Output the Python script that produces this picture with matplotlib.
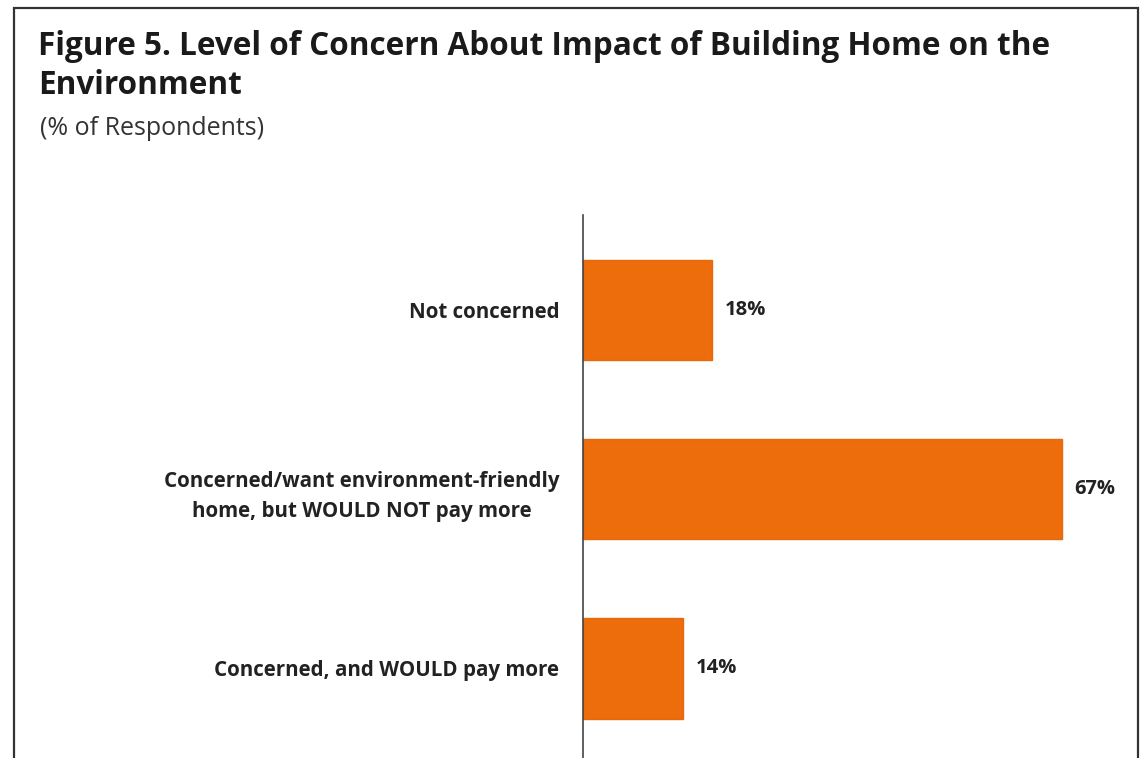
import matplotlib.pyplot as plt
from matplotlib.patches import Rectangle

categories = ["Not concerned",
              "Concerned/want environment-friendly\nhome, but WOULD NOT pay more",
              "Concerned, and WOULD pay more"]
values = [18, 67, 14]
labels = ["18%", "67%", "14%"]

plt.rcParams['font.family'] = ['Open Sans', 'DejaVu Sans']

W, H = 1142, 758
fig = plt.figure(figsize=(W / 100, H / 100), dpi=100)

# frame around the whole chart
fig.patches.append(Rectangle((14 / W, -0.05), (1138 - 14) / W, 1.05 - 8 / H,
                             transform=fig.transFigure, fill=False,
                             edgecolor='#333333', linewidth=1.6))

fig.text(38 / W, 1 - 55 / H, "Figure 5. Level of Concern About Impact of Building Home on the",
         fontsize=22.7, fontweight='bold', color='#1a1a1a', va='baseline')
fig.text(38 / W, 1 - 94 / H, "Environment",
         fontsize=22.7, fontweight='bold', color='#1a1a1a', va='baseline')
fig.text(40 / W, 1 - 135 / H, "(% of Respondents)",
         fontsize=18, color='#333333', va='baseline')

ax = fig.add_axes([583 / W, 0, 536 / W, 543 / H])
ypos = list(range(len(categories)))
bars = ax.barh(ypos, values, height=0.56, color='#ED6C0C', edgecolor='#E56A0E')
ax.set_xlim(0, 75)
ax.set_ylim(2.5, -0.53)

for b, lab in zip(bars, labels):
    ax.text(b.get_width() + 1.8, b.get_y() + b.get_height() / 2, lab,
            va='center', ha='left', fontsize=14.5, fontweight='bold', color='#222222')

ax.set_yticks(ypos)
ax.set_yticklabels(categories, fontsize=14.8, fontweight='bold', color='#222222',
                   ha='right', linespacing=1.6)
ax.tick_params(axis='y', length=0, pad=17)
for t in ax.get_yticklabels():
    t.set_multialignment('center')
ax.set_xticks([])
for s in ['top', 'right', 'bottom']:
    ax.spines[s].set_visible(False)
ax.spines['left'].set_color('#444444')
ax.spines['left'].set_linewidth(1.2)

fig.savefig("out.png", dpi=100, facecolor='white')
